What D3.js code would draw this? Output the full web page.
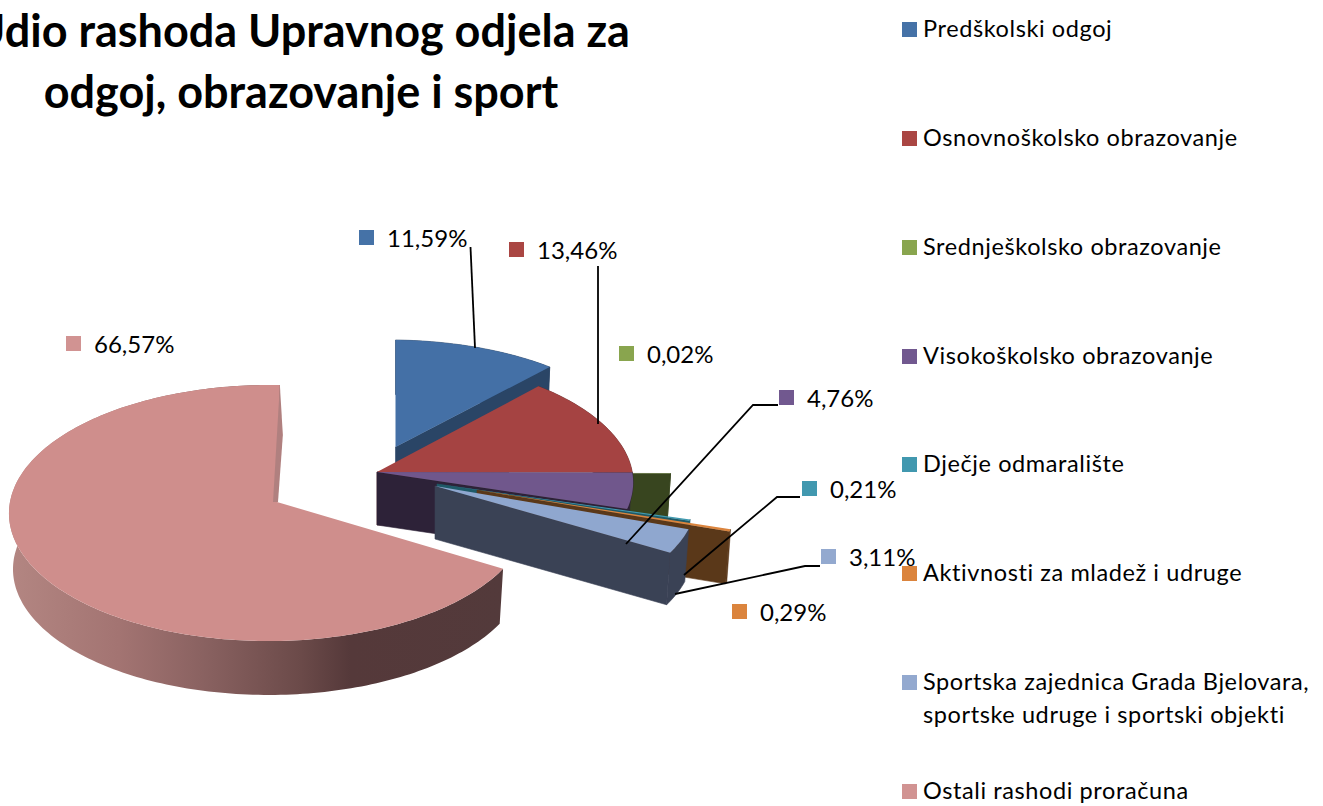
<!DOCTYPE html>
<html><head><meta charset="utf-8">
<script src="https://cdn.jsdelivr.net/npm/d3@7"></script>
<style>html,body{margin:0;padding:0;background:#fff;overflow:hidden}text{font-family:Lato,"Open Sans",sans-serif;fill:#000}</style>
</head><body><svg id="c" width="1323" height="806"></svg>
<script>
const titleLines = ["Udio rashoda Upravnog odjela za","odgoj, obrazovanje i sport"];
const categories = ["Predškolski odgoj","Osnovnoškolsko obrazovanje","Srednješkolsko obrazovanje","Visokoškolsko obrazovanje","Dječje odmaralište","Aktivnosti za mladež i udruge","Sportska zajednica Grada Bjelovara,|sportske udruge i sportski objekti","Ostali rashodi proračuna"];
const values = [11.59,13.46,0.02,4.76,0.21,0.29,3.11,66.57];
const topColors = ["#4470a6","#a54342","#8aa64f","#70578c","#3f9ab0","#db843d","#8fa7cf","#cf8e8c"];
const markColors = ["#4572a7","#aa4643","#89a54e","#71588f","#4198af","#db843d","#93a9cf","#d19392"];
const sideColors = ["#2a4566","#642a29","#38451f","#2d2238","#1f5a68","#5a3819","#3a4255","url(#pinkSide)"];
// layout of each exploded slice: apex position, scale factors and small rotation
const sliceLayout = [
 {cx:395.5,cy:447,sx:.97,sy:.915,depth:53,rot:-.012},
 {cx:377,cy:472,sx:1.015,sy:.98,depth:53,rot:-.012},
 {cx:419,cy:473,sx:1,sy:1,depth:53,rot:-.012},
 {cx:377,cy:472,sx:1.015,sy:.98,depth:53,rot:-.012},
 {cx:437,cy:484,sx:1.03,sy:.9,depth:53,rot:0},
 {cx:477,cy:490,sx:1.035,sy:.96,depth:53,rot:0},
 {cx:435,cy:486,sx:1.04,sy:1,depth:53,rot:0},
 {cx:277,cy:502,sx:1,sy:1,depth:56,rot:0}
];
const labelLayout = [
 {mx:359,my:230},{mx:509,my:242},{mx:619,my:346},{mx:779,my:390},
 {mx:802,my:481},{mx:732,my:604},{mx:821,my:549},{mx:66,my:336}
];
const leaderLines = [
 [[475,348],[470.5,247]],
 [[598,424],[598,266]],
 [[626,544],[753,405],[778,405]],
 [[684,575],[777,497],[800,497]],
 [[675,594],[805,566],[820,566]]
];
const legendTops = [22,131,240,349,457,566,675,784];

const RX=259, RY=127, K=.086, M=.03, BOTTOM=.985, START=.012;
const svg=d3.select("#c");
const defs=svg.append("defs");
const grad=defs.append("linearGradient").attr("id","pinkSide").attr("gradientUnits","userSpaceOnUse").attr("x1",10).attr("x2",503).attr("y1",0).attr("y2",0);
[[0,"#b38682"],[.22,"#a37472"],[.39,"#8a6261"],[.59,"#6b4a49"],[.69,"#55393a"],[1,"#533a3b"]].forEach(s=>grad.append("stop").attr("offset",s[0]).attr("stop-color",s[1]));

const fmt=d3.formatLocale({decimal:",",thousands:".",grouping:[3],currency:["","%"]}).format(".2f");
const pie=d3.pie().sort(null).startAngle(START).endAngle(START+2*Math.PI);
const arcs=pie(values);
const line=d3.line();
const closed=d3.line().curve(d3.curveLinearClosed);

function proj(L,a){
  const X=Math.sin(a+L.rot),Y=Math.cos(a+L.rot),den=1+K*Y+M*X;
  return [L.cx+RX*L.sx*X/den, L.cy-RY*L.sy*Y/den];
}
function lower(L,p){ return [L.cx+(p[0]-L.cx)*BOTTOM, L.cy+L.depth+(p[1]-L.cy)*BOTTOM]; }
function rim(L,d){
  const n=Math.max(2,Math.ceil((d.endAngle-d.startAngle)/.02));
  return d3.range(n+1).map(i=>proj(L,d.startAngle+(d.endAngle-d.startAngle)*i/n));
}

const gs=svg.append("g").selectAll("g").data(arcs).join("g");
gs.each(function(d,i){
  const L=sliceLayout[i], g=d3.select(this), R=rim(L,d), A=[L.cx,L.cy];
  const side=sideColors[i];
  const a1=R[R.length-1];
  // outer wall
  g.append("path").attr("d",closed(R.concat(R.map(p=>lower(L,p)).reverse()))).attr("fill",side).attr("stroke",i<7?side:"none").attr("stroke-width",.6);
  // cut face along the closing edge (the last slice ends at the back and shows only a sliver)
  if(i<7){
    g.append("path").attr("d",closed([A,a1,lower(L,a1),lower(L,A)])).attr("fill",side).attr("stroke",side).attr("stroke-width",.6);
  }
  // top face
  g.append("path").attr("d",closed([A].concat(R))).attr("fill",topColors[i]);
  if(i===7){
    const mid=[a1[0]+3,a1[1]+50];
    g.append("path").attr("d",closed([a1,mid,[A[0]+1,A[1]],[A[0]-4,A[1]]])).attr("fill","#b0807f");
  }
});

svg.append("g").selectAll("path").data(leaderLines).join("path")
 .attr("d",d=>line(d)).attr("fill","none").attr("stroke","#000").attr("stroke-width",1.8);

const labels=svg.append("g").selectAll("g").data(arcs).join("g");
labels.append("rect").attr("x",(d,i)=>labelLayout[i].mx).attr("y",(d,i)=>labelLayout[i].my).attr("width",15).attr("height",15).attr("fill",(d,i)=>markColors[i]);
labels.append("text").attr("x",(d,i)=>labelLayout[i].mx+28).attr("y",(d,i)=>labelLayout[i].my+17)
 .attr("font-size",24).text(d=>fmt(d.data)+"%");

const legend=svg.append("g").selectAll("g").data(categories).join("g");
legend.append("rect").attr("x",902).attr("y",(d,i)=>legendTops[i]).attr("width",15).attr("height",15).attr("fill",(d,i)=>markColors[i]);
legend.each(function(d,i){
  d.split("|").forEach((t,j)=>d3.select(this).append("text").attr("x",923).attr("y",legendTops[i]+15+j*33).attr("font-size",23.5).attr("letter-spacing",.6).text(t));
});

svg.append("g").selectAll("text").data(titleLines).join("text")
 .attr("x",301).attr("y",(d,i)=>47+i*61).attr("text-anchor","middle").attr("font-size",45).attr("font-weight",700).text(d=>d);
</script></body></html>
